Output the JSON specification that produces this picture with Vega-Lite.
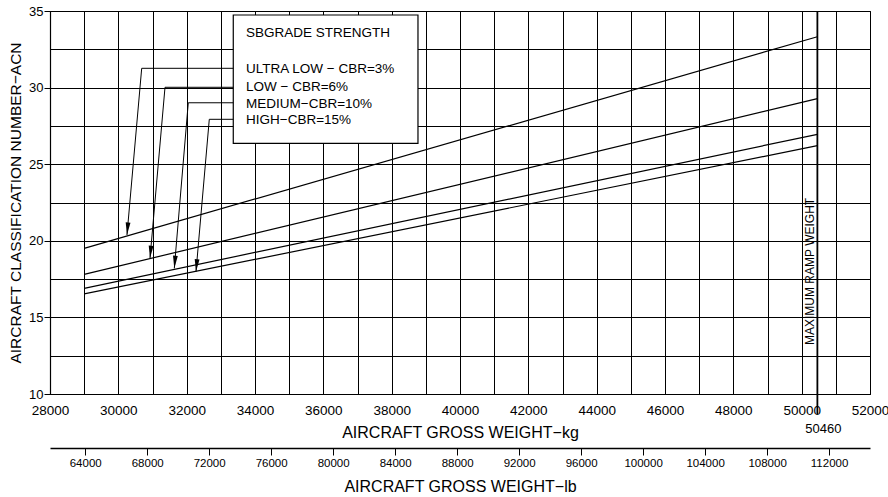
{
  "$schema": "https://vega.github.io/schema/vega-lite/v6.json",
  "width": 820,
  "height": 383,
  "autosize": {"type": "none"},
  "padding": {"left": 50, "top": 11, "right": 18, "bottom": 103},
  "background": "white",
  "config": {
    "font": "Liberation Sans",
    "view": {"stroke": "black", "strokeWidth": 1},
    "axis": {
      "labelFont": "Liberation Sans",
      "titleFont": "Liberation Sans",
      "titleFontWeight": "normal",
      "labelColor": "black",
      "titleColor": "black",
      "domainColor": "black",
      "tickColor": "black",
      "gridColor": "black",
      "gridOpacity": 1
    }
  },
  "datasets": {
    "curves": [
      {"series": "ULTRA LOW", "kg": 29000, "acn": 19.51},
      {"series": "ULTRA LOW", "kg": 50460, "acn": 33.32},
      {"series": "LOW", "kg": 29000, "acn": 17.81},
      {"series": "LOW", "kg": 50460, "acn": 29.28},
      {"series": "MEDIUM", "kg": 29000, "acn": 16.9},
      {"series": "MEDIUM", "kg": 50460, "acn": 26.95},
      {"series": "HIGH", "kg": 29000, "acn": 16.53},
      {"series": "HIGH", "kg": 50460, "acn": 26.21}
    ],
    "leaders": [
      {"series": "ULTRA LOW", "step": 1, "kg": 33364, "acn": 31.26},
      {"series": "ULTRA LOW", "step": 2, "kg": 30684, "acn": 31.26},
      {"series": "ULTRA LOW", "step": 3, "kg": 30253, "acn": 20.38},
      {"series": "LOW", "step": 1, "kg": 33364, "acn": 30.02},
      {"series": "LOW", "step": 2, "kg": 31366, "acn": 30.02},
      {"series": "LOW", "step": 3, "kg": 30927, "acn": 18.86},
      {"series": "MEDIUM", "step": 1, "kg": 33364, "acn": 29.01},
      {"series": "MEDIUM", "step": 2, "kg": 32047, "acn": 29.01},
      {"series": "MEDIUM", "step": 3, "kg": 31638, "acn": 18.2},
      {"series": "HIGH", "step": 1, "kg": 33364, "acn": 27.93},
      {"series": "HIGH", "step": 2, "kg": 32662, "acn": 27.93},
      {"series": "HIGH", "step": 3, "kg": 32273, "acn": 17.98}
    ],
    "tips": [
      {"series": "ULTRA LOW", "kg": 30253, "acn": 20.38},
      {"series": "LOW", "kg": 30927, "acn": 18.86},
      {"series": "MEDIUM", "kg": 31638, "acn": 18.2},
      {"series": "HIGH", "kg": 32273, "acn": 17.98}
    ],
    "box": [{"kg": 33364, "kg2": 38770, "acn": 34.74, "acn2": 26.36}],
    "legendText": [
      {"label": "SBGRADE STRENGTH", "kg": 33737, "acn": 33.54},
      {"label": "ULTRA LOW − CBR=3%", "kg": 33737, "acn": 31.19},
      {"label": "LOW − CBR=6%", "kg": 33737, "acn": 30.02},
      {"label": "MEDIUM−CBR=10%", "kg": 33737, "acn": 28.93},
      {"label": "HIGH−CBR=15%", "kg": 33737, "acn": 27.89}
    ],
    "ramp": [{"kg": 50460, "acn": 35, "acn2": 8.7}],
    "rampLabel": [{"label": "50460", "kg": 50460, "acn": 7.7}],
    "rampText": [{"label": "MAXIMUM RAMP WEIGHT", "kg": 50460, "acn": 13.2}],
    "lb": [{"lb": 61729.4}, {"lb": 114640.2}]
  },
  "layer": [
    {
      "encoding": {
        "x": {
          "field": "kg",
          "type": "quantitative",
          "scale": {"domain": [28000, 52000], "nice": false, "zero": false},
          "axis": {
            "title": "AIRCRAFT GROSS WEIGHT−kg",
            "values": [28000, 29000, 30000, 31000, 32000, 33000, 34000, 35000, 36000, 37000, 38000, 39000, 40000, 41000, 42000, 43000, 44000, 45000, 46000, 47000, 48000, 49000, 50000, 51000, 52000],
            "labelExpr": "datum.value % 2000 === 0 ? format(datum.value, 'd') : ''",
            "grid": true,
            "gridWidth": 1,
            "tickSize": 0,
            "labelPadding": 9,
            "labelFontSize": 13.5,
            "titleFontSize": 16,
            "titlePadding": 8,
            "labelFlush": false,
            "labelOverlap": false,
            "domainWidth": 1.2
          }
        },
        "y": {
          "field": "acn",
          "type": "quantitative",
          "scale": {"domain": [10, 35], "nice": false, "zero": false},
          "axis": {
            "title": "AIRCRAFT CLASSIFICATION NUMBER−ACN",
            "values": [10, 12.5, 15, 17.5, 20, 22.5, 25, 27.5, 30, 32.5, 35],
            "labelExpr": "datum.value % 5 === 0 ? format(datum.value, 'd') : ''",
            "grid": true,
            "gridWidth": 1,
            "tickSize": 6,
            "tickOpacity": {"condition": {"test": "datum.value % 5 === 0", "value": 1}, "value": 0},
            "labelPadding": 1,
            "labelFontSize": 13,
            "titleFontSize": 15.5,
            "titlePadding": 5,
            "labelFlush": false,
            "labelOverlap": false,
            "domainWidth": 1.2
          }
        }
      },
      "layer": [
        {
          "data": {"name": "box"},
          "mark": {"type": "rect", "fill": "white", "stroke": "black", "strokeWidth": 1.2},
          "encoding": {"x2": {"field": "kg2"}, "y2": {"field": "acn2"}}
        },
        {
          "data": {"name": "curves"},
          "mark": {"type": "line", "color": "black", "strokeWidth": 1.2},
          "encoding": {"detail": {"field": "series"}}
        },
        {
          "data": {"name": "leaders"},
          "mark": {"type": "line", "color": "black", "strokeWidth": 1},
          "encoding": {"detail": {"field": "series"}, "order": {"field": "step", "type": "quantitative"}}
        },
        {
          "data": {"name": "tips"},
          "mark": {"type": "point", "shape": "M0,0L-0.4,-2.1L0.4,-2.1Z", "filled": true, "color": "black", "size": 144, "angle": 5, "opacity": 1, "strokeWidth": 0}
        },
        {
          "data": {"name": "legendText"},
          "mark": {"type": "text", "align": "left", "baseline": "middle", "fontSize": 13.5, "color": "black", "font": "Liberation Sans"},
          "encoding": {"text": {"field": "label"}}
        },
        {
          "data": {"name": "ramp"},
          "mark": {"type": "rule", "color": "black", "strokeWidth": 1.8},
          "encoding": {"y2": {"field": "acn2"}}
        },
        {
          "data": {"name": "rampLabel"},
          "mark": {"type": "text", "align": "center", "baseline": "middle", "fontSize": 13, "dx": 6, "color": "black", "font": "Liberation Sans"},
          "encoding": {"text": {"field": "label"}}
        },
        {
          "data": {"name": "rampText"},
          "mark": {"type": "text", "align": "left", "baseline": "alphabetic", "angle": 270, "dy": -3, "fontSize": 12, "color": "black", "font": "Liberation Sans"},
          "encoding": {"text": {"field": "label"}}
        }
      ]
    },
    {
      "data": {"name": "lb"},
      "mark": {"type": "point", "opacity": 0},
      "encoding": {
        "x": {
          "field": "lb",
          "type": "quantitative",
          "scale": {"domain": [61729.4, 114640.2], "nice": false, "zero": false},
          "axis": {
            "orient": "bottom",
            "offset": 54,
            "title": "AIRCRAFT GROSS WEIGHT−lb",
            "values": [64000, 68000, 72000, 76000, 80000, 84000, 88000, 92000, 96000, 100000, 104000, 108000, 112000],
            "format": "d",
            "grid": false,
            "tickSize": 7,
            "labelPadding": 2,
            "labelFontSize": 11.5,
            "titleFontSize": 16,
            "titlePadding": 10,
            "labelFlush": false,
            "labelOverlap": false,
            "domainWidth": 1.5
          }
        }
      }
    }
  ],
  "resolve": {"scale": {"x": "independent"}, "axis": {"x": "independent"}}
}
